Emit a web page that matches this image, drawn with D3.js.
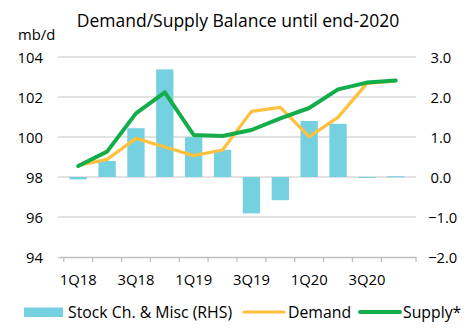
<!DOCTYPE html>
<html>
<head>
<meta charset="utf-8">
<script src="https://cdn.jsdelivr.net/npm/d3@7"></script>
<style>
  body { margin: 0; background: #fff; }
  svg { font-family: "Open Sans", sans-serif; }
</style>
</head>
<body>
<div id="chart"></div>
<script>
const quarters = ["1Q18", "2Q18", "3Q18", "4Q18", "1Q19", "2Q19", "3Q19", "4Q19", "1Q20", "2Q20", "3Q20", "4Q20"];
const stockChange = [-0.06, 0.4, 1.22, 2.69, 1.0, 0.68, -0.91, -0.58, 1.4, 1.33, -0.01, 0.02];
const demand = [98.58, 98.88, 99.93, 99.5, 99.07, 99.35, 101.28, 101.48, 100.02, 100.98, 102.68, 102.8];
const supply = [98.55, 99.27, 101.18, 102.23, 100.1, 100.05, 100.35, 100.93, 101.45, 102.38, 102.72, 102.82];
const leftTicks = [94, 96, 98, 100, 102, 104];
const rightTicks = [-2, -1, 0, 1, 2, 3];
const labelQuarters = ["1Q18", "3Q18", "1Q19", "3Q19", "1Q20", "3Q20"];

const W = 476, H = 331;
const margin = { top: 57, right: 60, bottom: 74, left: 58 };
const width = W - margin.left - margin.right;
const height = H - margin.top - margin.bottom;
const fs = "14.8px";

const svg = d3.select("#chart").append("svg")
  .attr("width", W)
  .attr("height", H);

const g = svg.append("g")
  .attr("transform", `translate(${margin.left},${margin.top})`);

const x = d3.scaleBand().domain(quarters).range([0, width]).padding(0.4);
const xPoint = (q) => x(q) + x.bandwidth() / 2;
const yL = d3.scaleLinear().domain([94, 104]).range([height, 0]);
const yR = d3.scaleLinear().domain([-2, 3]).range([height, 0]);

// gridlines
g.selectAll("line.grid")
  .data(leftTicks.slice(1))
  .enter()
  .append("line")
  .attr("class", "grid")
  .attr("x1", 0)
  .attr("x2", width)
  .attr("y1", (d) => yL(d))
  .attr("y2", (d) => yL(d))
  .attr("stroke", "#d9d9d9")
  .attr("stroke-width", 1.3);

// bars on right axis
g.selectAll("rect.bar")
  .data(quarters)
  .enter()
  .append("rect")
  .attr("class", "bar")
  .attr("x", (q) => x(q))
  .attr("width", x.bandwidth())
  .attr("y", (q, i) => yR(Math.max(0, stockChange[i])))
  .attr("height", (q, i) => Math.max(1, Math.abs(yR(stockChange[i]) - yR(0))))
  .attr("fill", "#75d0e0");

// bottom axis
const xAxis = g.append("g")
  .attr("transform", `translate(0,${height})`)
  .call(d3.axisBottom(x).tickSize(0).tickFormat(""));
xAxis.select(".domain").attr("stroke", "#bfbfbf").attr("stroke-width", 1.3);

// ticks sit between categories
const bounds = quarters.map((q) => x(q) - (x.step() - x.bandwidth()) / 2);
bounds.push(width);
g.selectAll("line.xtick")
  .data(bounds)
  .enter()
  .append("line")
  .attr("x1", (d) => d)
  .attr("x2", (d) => d)
  .attr("y1", height)
  .attr("y2", height + 5)
  .attr("stroke", "#bfbfbf")
  .attr("stroke-width", 1.3);

g.selectAll("text.xlab")
  .data(labelQuarters)
  .enter()
  .append("text")
  .attr("x", (q) => xPoint(q))
  .attr("y", height + 28)
  .attr("text-anchor", "middle")
  .style("font-size", fs)
  .attr("fill", "#000")
  .text((q) => q);

// left axis labels
g.selectAll("text.yl")
  .data(leftTicks)
  .enter()
  .append("text")
  .attr("x", -15)
  .attr("y", (d) => yL(d) + 5.5)
  .attr("text-anchor", "end")
  .style("font-size", fs)
  .text((d) => d);

// right axis labels
g.selectAll("text.yr")
  .data(rightTicks)
  .enter()
  .append("text")
  .attr("x", width + 12)
  .attr("y", (d) => yR(d) + 5.5)
  .attr("text-anchor", "start")
  .style("font-size", fs)
  .text((d) => (d >= 0 ? "\u2009" : "") + d3.format(".1f")(d));

// lines
const line = d3.line()
  .x((d, i) => xPoint(quarters[i]))
  .y((d) => yL(d));

g.append("path")
  .datum(demand)
  .attr("fill", "none")
  .attr("stroke", "#ffc03d")
  .attr("stroke-width", 3.2)
  .attr("stroke-linejoin", "round")
  .attr("d", line);

g.append("path")
  .datum(supply)
  .attr("fill", "none")
  .attr("stroke", "#13ad4a")
  .attr("stroke-width", 4)
  .attr("stroke-linejoin", "round")
  .attr("stroke-linecap", "round")
  .attr("d", line);

// title and unit
svg.append("text")
  .attr("x", 238)
  .attr("y", 27)
  .attr("text-anchor", "middle")
  .style("font-size", "17.5px")
  .text("Demand/Supply Balance until end-2020");

svg.append("text")
  .attr("x", 18)
  .attr("y", 40)
  .style("font-size", fs)
  .text("mb/d");

// legend
const legend = svg.append("g").attr("transform", "translate(0,312)");
legend.append("rect")
  .attr("x", 24).attr("y", -4.5).attr("width", 39).attr("height", 9.5)
  .attr("fill", "#75d0e0");
legend.append("text").attr("x", 68).attr("y", 6).style("font-size", "15.8px")
  .text("Stock Ch. & Misc (RHS)");
legend.append("line")
  .attr("x1", 244).attr("x2", 284).attr("y1", 0).attr("y2", 0)
  .attr("stroke", "#ffc03d").attr("stroke-width", 3.2).attr("stroke-linecap", "round");
legend.append("text").attr("x", 288).attr("y", 6).style("font-size", "15.8px")
  .text("Demand");
legend.append("line")
  .attr("x1", 360).attr("x2", 400).attr("y1", 0).attr("y2", 0)
  .attr("stroke", "#13ad4a").attr("stroke-width", 4).attr("stroke-linecap", "round");
legend.append("text").attr("x", 403).attr("y", 6).style("font-size", "15.8px")
  .text("Supply*");
</script>
</body>
</html>
